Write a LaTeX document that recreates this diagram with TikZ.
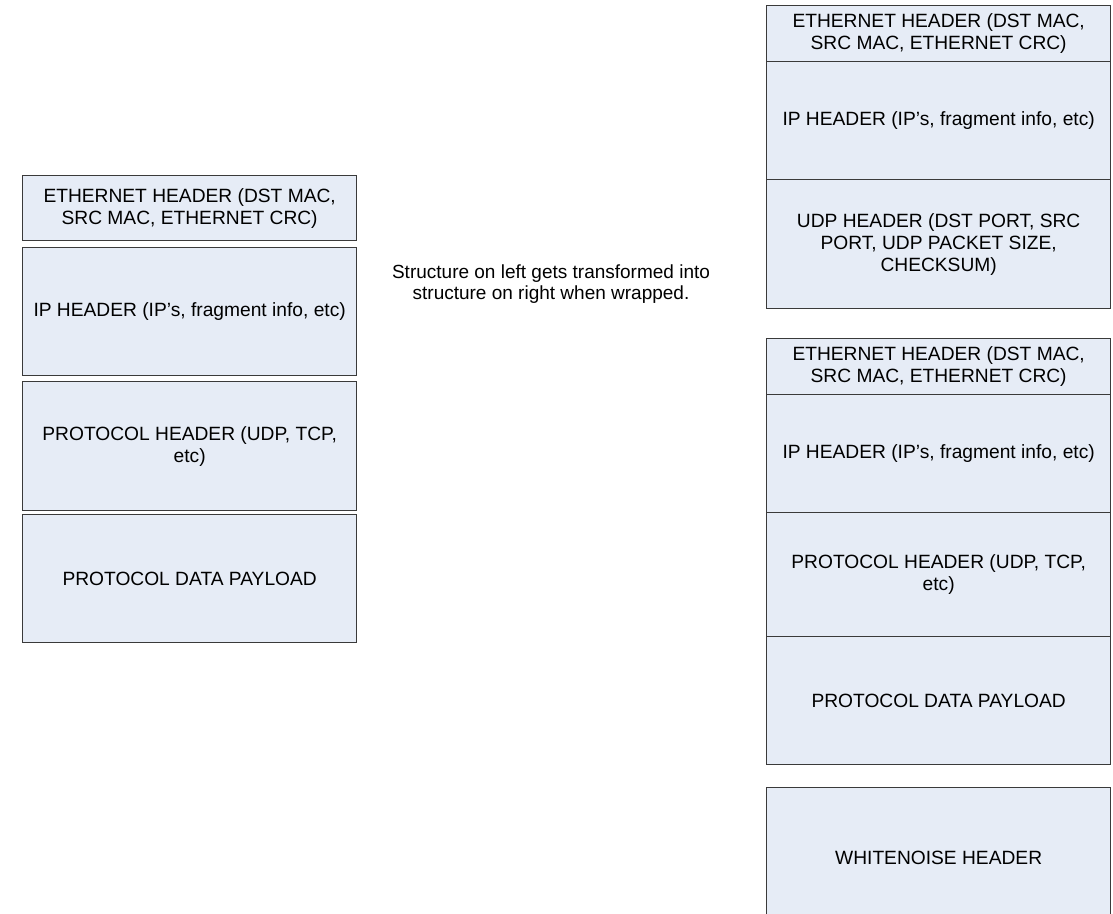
\documentclass[tikz,border=0pt]{standalone}
\usepackage{fontspec}
\setmainfont{Liberation Sans}
\definecolor{boxfill}{HTML}{E6ECF6}
\definecolor{boxline}{HTML}{3A3A3A}
\begin{document}
\begin{tikzpicture}[x=1pt,y=-1pt,
  blk/.style={draw=boxline, fill=boxfill, line width=1.3pt, rectangle,
    anchor=north west, inner sep=0pt, align=center,
    font=\fontsize{19.2}{22}\selectfont},
  note/.style={align=center, font=\fontsize{19}{21.5}\selectfont}]
\useasboundingbox (0,0) rectangle (1113,913);

% left stack: the original packet
\node[blk, minimum width=334pt, minimum height=65pt] (leth) at (22,175)
  {ETHERNET HEADER (DST MAC,\\SRC MAC, ETHERNET CRC)};
\node[blk, minimum width=334pt, minimum height=128pt] (lip) at (22,247)
  {IP HEADER (IP’s, fragment info, etc)};
\node[blk, minimum width=334pt, minimum height=129pt] (lproto) at (22,381)
  {PROTOCOL HEADER (UDP, TCP,\\etc)};
\node[blk, minimum width=334pt, minimum height=128pt] (lpay) at (22,514)
  {PROTOCOL DATA PAYLOAD};

% explanation in the middle
\node[note] (txt) at (551,284)
  {Structure on left gets transformed into\\structure on right when wrapped.};

% right stack: outer UDP wrapper
\node[blk, minimum width=344pt, minimum height=56pt] (reth1) at (766,5)
  {ETHERNET HEADER (DST MAC,\\SRC MAC, ETHERNET CRC)};
\node[blk, minimum width=344pt, minimum height=118pt] (rip1) at (766,61)
  {IP HEADER (IP’s, fragment info, etc)};
\node[blk, minimum width=344pt, minimum height=129pt] (rudp) at (766,179)
  {UDP HEADER (DST PORT, SRC\\PORT, UDP PACKET SIZE,\\CHECKSUM)};

% right stack: the original packet as payload
\node[blk, minimum width=344pt, minimum height=56pt] (reth2) at (766,338)
  {ETHERNET HEADER (DST MAC,\\SRC MAC, ETHERNET CRC)};
\node[blk, minimum width=344pt, minimum height=118pt] (rip2) at (766,394)
  {IP HEADER (IP’s, fragment info, etc)};
\node[blk, minimum width=344pt, minimum height=124pt] (rproto) at (766,512)
  {PROTOCOL HEADER (UDP, TCP,\\etc)};
\node[blk, minimum width=344pt, minimum height=128pt] (rpay) at (766,636)
  {PROTOCOL DATA PAYLOAD};

% trailing header
\node[blk, minimum width=344pt, minimum height=140pt] (rwn) at (766,787)
  {WHITENOISE HEADER};
\end{tikzpicture}
\end{document}
